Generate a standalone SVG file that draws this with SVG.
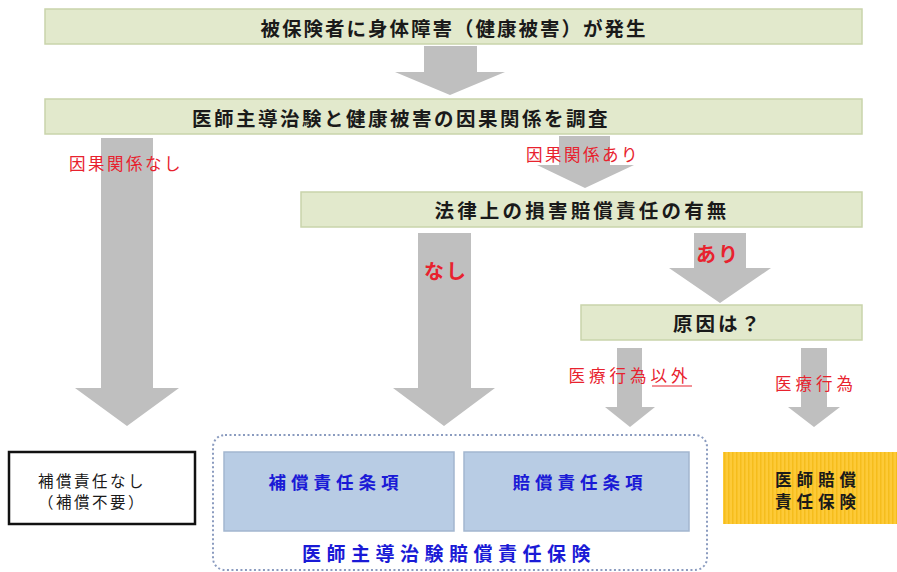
<svg xmlns="http://www.w3.org/2000/svg" width="897" height="572" viewBox="0 0 897 572">
<defs>
<pattern id="stripe" width="4" height="10" patternUnits="userSpaceOnUse">
<rect width="4" height="10" fill="#fdca38"/>
<rect width="1.5" height="10" fill="#f5bd1c"/>
</pattern>
</defs>
<style>
.g{fill:#e2e9cc;stroke:#c9d4ab;stroke-width:1.5}
.ar{fill:#bfbfbf}
.t{font-family:"Noto Sans CJK JP","Noto Sans CJK SC",sans-serif;font-weight:bold;text-anchor:middle;dominant-baseline:central}
.blk{fill:#1a1a1a}
.red{fill:#e8222e}
.rl{font-weight:normal}
.blu{fill:#1a1ad6}
.bb{fill:#b8cce4;stroke:#a3b6cf;stroke-width:1.5}
</style>
<rect width="897" height="572" fill="#ffffff"/>
<g id="connectors">
<polygon class="ar" points="424,46 477,46 477,72 505,72 450,95 395,72 424,72"/>
<polygon class="ar" points="101,138 153,138 153,388 179,388 127,426 75,388 101,388"/>
<polygon class="ar" points="559,136 610,136 610,165 634,165 585,188 537,165 559,165"/>
<polygon class="ar" points="418,233 471,233 471,388 495,388 444,426 393,388 418,388"/>
<polygon class="ar" points="694,233 746,233 746,268 771,268 720,303 669,268 694,268"/>
<polygon class="ar" points="617,348 642,348 642,407 655,407 630,427 605,407 617,407"/>
<polygon class="ar" points="801,348 827,348 827,407 840,407 814,427 788,407 801,407"/>
<text class="t red rl" x="126" y="163" font-size="16.5" letter-spacing="2.5">因果関係なし</text>
<text class="t red rl" x="583" y="154" font-size="16.5" letter-spacing="2.5">因果関係あり</text>
<text class="t red" x="446" y="270" font-size="20" letter-spacing="2">なし</text>
<text class="t red" x="718" y="253" font-size="20" letter-spacing="2">あり</text>
<text class="t red rl" x="630" y="375" font-size="16.5" letter-spacing="4">医療行為以外</text>
<line x1="652" y1="386" x2="692" y2="386" stroke="#e8222e" stroke-width="1.2"/>
<text class="t red rl" x="816" y="383" font-size="16.5" letter-spacing="4">医療行為</text>
</g>
<g id="n1">
<rect class="g" x="45" y="9" width="817" height="35"/>
<text class="t blk" x="454" y="27" font-size="19.5" letter-spacing="2">被保険者に身体障害（健康被害）が発生</text>
</g>
<g id="n2">
<rect class="g" x="45" y="99" width="817" height="35"/>
<text class="t blk" x="401" y="117" font-size="19.5" letter-spacing="2.5">医師主導治験と健康被害の因果関係を調査</text>
</g>
<g id="n3">
<rect class="g" x="301" y="192" width="561" height="35"/>
<text class="t blk" x="582" y="209" font-size="19.5" letter-spacing="3.2">法律上の損害賠償責任の有無</text>
</g>
<g id="n4">
<rect class="g" x="581" y="305" width="281" height="35"/>
<text class="t blk" x="718" y="322" font-size="19.5" letter-spacing="3">原因は？</text>
</g>
<g id="n5">
<rect x="9" y="452" width="186" height="72" fill="#ffffff" stroke="#111111" stroke-width="2.5"/>
<text class="t blk rl" font-size="15.5" letter-spacing="2.5"><tspan x="92" y="480">補償責任なし</tspan><tspan x="92" y="501">（補償不要）</tspan></text>
</g>
<g id="n6">
<rect x="213" y="435" width="494" height="135" rx="12" fill="none" stroke="#8a9bbf" stroke-width="2" stroke-dasharray="2,2.5"/>
<text class="t blu" x="449" y="552" font-size="19" letter-spacing="5.5">医師主導治験賠償責任保険</text>
</g>
<g id="n7">
<rect class="bb" x="224" y="452" width="230" height="79"/>
<text class="t blu" x="336" y="481" font-size="17.5" letter-spacing="5">補償責任条項</text>
</g>
<g id="n8">
<rect class="bb" x="464" y="452" width="225" height="79"/>
<text class="t blu" x="580" y="481" font-size="17.5" letter-spacing="5">賠償責任条項</text>
</g>
<g id="n9">
<rect x="723" y="452" width="174" height="72" fill="url(#stripe)"/>
<text class="t blk" font-size="16.5" letter-spacing="5"><tspan x="818" y="478.5">医師賠償</tspan><tspan x="818" y="501">責任保険</tspan></text>
</g>
</svg>
